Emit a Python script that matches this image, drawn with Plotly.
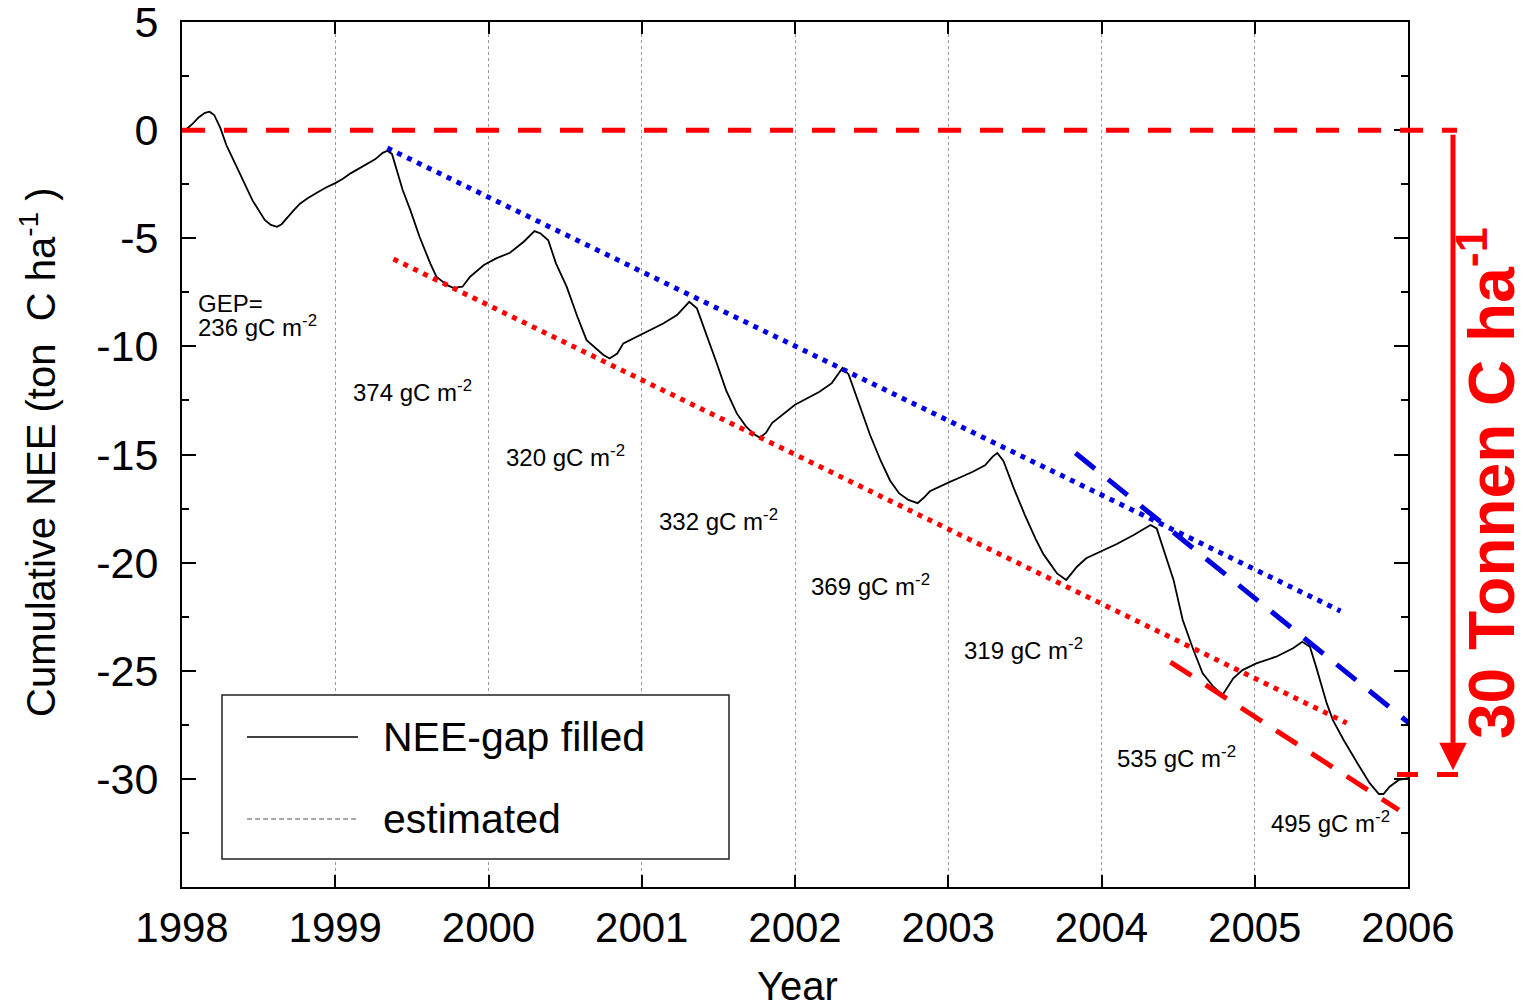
import plotly.graph_objects as go

# ---------------- data ----------------
nee_year = [1998.03, 1998.07, 1998.11, 1998.15, 1998.18, 1998.21, 1998.25, 1998.29, 1998.33, 1998.38,
            1998.42, 1998.46, 1998.50, 1998.54, 1998.58, 1998.62, 1998.65, 1998.69, 1998.73, 1998.77,
            1998.82, 1998.88, 1998.94, 1999.00, 1999.05, 1999.10, 1999.16, 1999.21, 1999.26, 1999.31,
            1999.34, 1999.37, 1999.40, 1999.44, 1999.49, 1999.55, 1999.62, 1999.66, 1999.73, 1999.77,
            1999.83, 1999.88, 1999.97, 2000.05, 2000.14, 2000.23, 2000.30, 2000.34, 2000.39, 2000.44,
            2000.51, 2000.58, 2000.64, 2000.71, 2000.75, 2000.79, 2000.84, 2000.88, 2000.97, 2001.05,
            2001.14, 2001.23, 2001.31, 2001.36, 2001.42, 2001.49, 2001.55, 2001.62, 2001.68, 2001.73,
            2001.77, 2001.81, 2001.85, 2001.93, 2002.00, 2002.08, 2002.16, 2002.24, 2002.31, 2002.35,
            2002.42, 2002.49, 2002.56, 2002.62, 2002.68, 2002.74, 2002.80, 2002.84, 2002.88, 2002.95,
            2003.00, 2003.08, 2003.16, 2003.24, 2003.29, 2003.32, 2003.36, 2003.43, 2003.50, 2003.57,
            2003.62, 2003.66, 2003.71, 2003.77, 2003.84, 2003.90, 2003.99, 2004.10, 2004.21, 2004.27,
            2004.32, 2004.36, 2004.40, 2004.47, 2004.53, 2004.60, 2004.66, 2004.73, 2004.79, 2004.82,
            2004.86, 2004.92, 2005.01, 2005.14, 2005.25, 2005.31, 2005.36, 2005.40, 2005.47, 2005.51,
            2005.58, 2005.67, 2005.75, 2005.81, 2005.84, 2005.88, 2005.94, 2006.00]
nee_value = [0.05, 0.30, 0.60, 0.80, 0.85, 0.70, 0.10, -0.70, -1.30, -2.05,
             -2.70, -3.25, -3.70, -4.15, -4.38, -4.47, -4.35, -4.00, -3.70, -3.40,
             -3.15, -2.90, -2.65, -2.45, -2.25, -2.00, -1.75, -1.55, -1.35, -1.05,
             -0.95, -1.10, -1.85, -2.77, -3.70, -4.93, -6.16, -6.78, -7.17, -7.29,
             -7.24, -6.78, -6.24, -5.93, -5.67, -5.16, -4.67, -4.78, -5.09, -6.16,
             -7.24, -8.63, -9.71, -10.17, -10.40, -10.56, -10.33, -9.86, -9.55, -9.25,
             -8.94, -8.55, -7.94, -8.24, -9.40, -10.79, -12.02, -13.10, -13.70, -14.05,
             -14.22, -14.00, -13.55, -13.10, -12.70, -12.40, -12.10, -11.70, -11.00, -11.30,
             -12.70, -14.10, -15.30, -16.20, -16.80, -17.10, -17.25, -17.00, -16.70, -16.45,
             -16.30, -16.05, -15.80, -15.50, -15.10, -14.93, -15.30, -16.60, -17.80, -18.90,
             -19.60, -20.00, -20.50, -20.80, -20.19, -19.80, -19.49, -19.14, -18.72, -18.49,
             -18.26, -18.42, -19.26, -20.80, -22.65, -24.04, -25.12, -25.74, -26.12, -25.81,
             -25.35, -24.97, -24.66, -24.35, -23.96, -23.66, -23.89, -24.81, -26.51, -27.28,
             -28.20, -29.28, -30.20, -30.70, -30.70, -30.36, -30.05, -29.97]

# trend lines (start, end)
blue_dot_x = [1999.34, 2005.56]
blue_dot_y = [-0.83, -22.24]
red_dot_x = [1999.38, 2005.60]
red_dot_y = [-5.96, -27.42]
blue_dash_x = [2003.83, 2006.03]
blue_dash_y = [-14.93, -27.55]
red_dash_x = [2004.45, 2005.94]
red_dash_y = [-24.60, -31.44]

zero_level = 0.0
end_level = -29.8

gep_text = ["GEP=", "236 gC m<sup>-2</sup>", "374 gC m<sup>-2</sup>", "320 gC m<sup>-2</sup>",
            "332 gC m<sup>-2</sup>", "369 gC m<sup>-2</sup>", "319 gC m<sup>-2</sup>",
            "535 gC m<sup>-2</sup>", "495 gC m<sup>-2</sup>"]
gep_x = [1998.09, 1998.09, 1999.10, 2000.10, 2001.10, 2002.09, 2003.09, 2004.09, 2005.09]
gep_y = [-8.00, -9.05, -12.05, -15.05, -18.05, -21.05, -24.00, -29.00, -32.00]

x_ticks = [1998, 1999, 2000, 2001, 2002, 2003, 2004, 2005, 2006]
y_ticks = [5, 0, -5, -10, -15, -20, -25, -30]

# ---------------- layout helpers ----------------
OFF = 8  # page body margin of the html output
W, H = 1526 - OFF, 1006 - OFF
L, R, T, B = 182 - OFF, 1408 - OFF, 22 - OFF, 887 - OFF


def px_x(p):
    """screen pixel -> paper x"""
    return (p - OFF - L) / (R - L)


def px_y(p):
    """screen pixel -> paper y"""
    return (B - (p - OFF)) / (B - T)


FONT = "Liberation Sans, Arial, Helvetica, sans-serif"
RED = "#ff0000"
BLUE = "#0000e0"

fig = go.Figure()
fig.add_trace(go.Scatter(x=nee_year, y=nee_value, mode="lines", name="NEE-gap filled",
                         line=dict(color="black", width=1.8), showlegend=False))
fig.add_trace(go.Scatter(x=blue_dot_x, y=blue_dot_y, mode="lines", showlegend=False,
                         line=dict(color=BLUE, width=5, dash="5px,6px")))
fig.add_trace(go.Scatter(x=red_dot_x, y=red_dot_y, mode="lines", showlegend=False,
                         line=dict(color=RED, width=5, dash="5px,6px")))
fig.add_trace(go.Scatter(x=blue_dash_x, y=blue_dash_y, mode="lines", showlegend=False,
                         line=dict(color=BLUE, width=5, dash="25px,17px")))
fig.add_trace(go.Scatter(x=red_dash_x, y=red_dash_y, mode="lines", showlegend=False,
                         line=dict(color=RED, width=5, dash="25px,17px")))

shapes = [
    dict(type="line", xref="paper", yref="y", x0=0, x1=px_x(1457), y0=zero_level, y1=zero_level,
         line=dict(color=RED, width=5, dash="23px,19px")),
    dict(type="line", xref="paper", yref="y", x0=px_x(1397), x1=px_x(1460), y0=end_level, y1=end_level,
         line=dict(color=RED, width=5, dash="21px,19px")),
    dict(type="rect", xref="paper", yref="paper", x0=px_x(222), x1=px_x(729), y0=px_y(859), y1=px_y(695),
         line=dict(color="#222222", width=1.5), fillcolor="white", layer="above"),
    dict(type="line", xref="paper", yref="paper", x0=px_x(247), x1=px_x(358), y0=px_y(737), y1=px_y(737),
         line=dict(color="black", width=1.6)),
    dict(type="line", xref="paper", yref="paper", x0=px_x(247), x1=px_x(358), y0=px_y(819), y1=px_y(819),
         line=dict(color="#555555", width=1, dash="5px,3px")),
]

annotations = []
for t, x, y in zip(gep_text, gep_x, gep_y):
    annotations.append(dict(text=t, x=x, y=y, xref="x", yref="y", showarrow=False,
                            xanchor="left", yanchor="middle", font=dict(family=FONT, size=24, color="black")))

annotations += [
    dict(text="NEE-gap filled", x=px_x(381), y=px_y(737), xref="paper", yref="paper", showarrow=False,
         xanchor="left", yanchor="middle", font=dict(family=FONT, size=41, color="black")),
    dict(text="estimated", x=px_x(381), y=px_y(819), xref="paper", yref="paper", showarrow=False,
         xanchor="left", yanchor="middle", font=dict(family=FONT, size=41, color="black")),
    dict(text="Cumulative NEE (ton  C ha<sup>-1</sup> )", x=px_x(38), y=px_y(452), xref="paper", yref="paper",
         showarrow=False, textangle=-90, xanchor="center", yanchor="middle",
         font=dict(family=FONT, size=40, color="black")),
    dict(text="Year", x=px_x(797), y=px_y(986), xref="paper", yref="paper", showarrow=False,
         xanchor="center", yanchor="middle", font=dict(family=FONT, size=40, color="black")),
    dict(text="", x=px_x(1453), y=end_level + 0.2, xref="paper", yref="y",
         ax=0, ay=zero_level - 0.15, axref="pixel", ayref="y", showarrow=True,
         arrowhead=2, arrowsize=1.1, arrowwidth=5, arrowcolor=RED, font=dict(size=1)),
    dict(text="<b>30 Tonnen C ha<sup>-1</sup></b>", x=px_x(1487), y=px_y(483), xref="paper", yref="paper",
         showarrow=False, textangle=-90, xanchor="center", yanchor="middle",
         font=dict(family=FONT, size=64, color=RED)),
]

fig.update_layout(
    width=W, height=H,
    margin=dict(l=L, r=W - R, t=T, b=H - B, pad=0, autoexpand=False),
    paper_bgcolor="white", plot_bgcolor="white",
    showlegend=False,
    shapes=shapes, annotations=annotations,
    xaxis=dict(range=[1998, 2006], tickvals=x_ticks, ticktext=[str(v) for v in x_ticks],
               ticks="inside", ticklen=12, tickwidth=1.5, tickcolor="black",
               showline=True, linecolor="black", linewidth=2, mirror="ticks",
               showgrid=True, gridcolor="#9a9a9a", gridwidth=1, griddash="dot",
               zeroline=False, ticklabelstandoff=3, ticklabeloverflow="allow", automargin=False,
               tickfont=dict(family=FONT, size=42, color="black")),
    yaxis=dict(range=[-35, 5], tickvals=y_ticks, ticktext=[str(v) for v in y_ticks],
               ticks="inside", ticklen=14, tickwidth=1.5, tickcolor="black",
               showline=True, linecolor="black", linewidth=2, mirror="ticks",
               showgrid=False, zeroline=False, ticklabelstandoff=13, ticklabeloverflow="allow",
               automargin=False,
               minor=dict(dtick=2.5, tick0=0, ticks="inside", ticklen=7, tickwidth=1.5,
                          tickcolor="black", showgrid=False),
               tickfont=dict(family=FONT, size=43, color="black")),
)

fig.write_html("out.html")
